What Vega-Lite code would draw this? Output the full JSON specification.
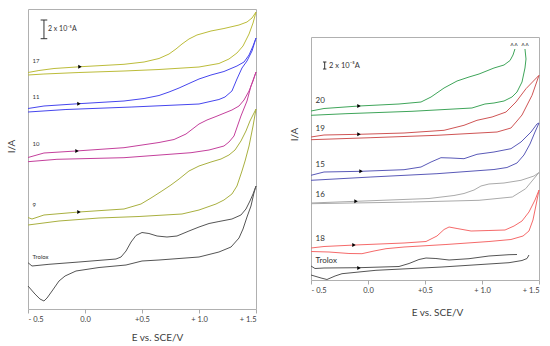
{
  "$schema": "https://vega.github.io/schema/vega-lite/v6.json",
  "padding": {"left": 5, "top": 8, "right": 0, "bottom": 0},
  "spacing": 29,
  "resolve": {"scale": {"color": "independent"}},
  "config": {
    "font": "Lato",
    "view": {"stroke": "#b0b0b0", "strokeWidth": 1},
    "axis": {"grid": false, "labelColor": "#404040", "titleColor": "#404040", "titleFontWeight": "normal", "labelFont": "Lato", "titleFont": "Lato"}
  },
  "datasets": {
    "L": [
      {"t":"17","e":-0.5,"i":236.5},{"t":"17","e":-0.404,"i":238.5},{"t":"17","e":-0.272,"i":240.5},{"t":"17","e":-0.035,"i":242.3},{"t":"17","e":0.342,"i":244.7},{"t":"17","e":0.518,"i":247},{"t":"17","e":0.649,"i":250.5},{"t":"17","e":0.737,"i":255},{"t":"17","e":0.798,"i":260},{"t":"17","e":0.851,"i":265},{"t":"17","e":0.912,"i":270},{"t":"17","e":0.982,"i":274},{"t":"17","e":1.105,"i":278},{"t":"17","e":1.219,"i":280.5},{"t":"17","e":1.351,"i":284},{"t":"17","e":1.421,"i":287},{"t":"17","e":1.465,"i":291},{"t":"17","e":1.5,"i":297},
      {"t":"17","e":1.474,"i":286},{"t":"17","e":1.439,"i":275},{"t":"17","e":1.386,"i":263},{"t":"17","e":1.333,"i":256},{"t":"17","e":1.263,"i":250},{"t":"17","e":1.175,"i":245.5},{"t":"17","e":1.0,"i":242},{"t":"17","e":0.649,"i":239.5},{"t":"17","e":0.342,"i":238},{"t":"17","e":-0.053,"i":236.5},{"t":"17","e":-0.36,"i":235},{"t":"17","e":-0.5,"i":234},

      {"t":"11","e":-0.5,"i":200.5},{"t":"11","e":-0.36,"i":203},{"t":"11","e":-0.053,"i":205.3},{"t":"11","e":0.342,"i":208},{"t":"11","e":0.518,"i":210.5},{"t":"11","e":0.649,"i":213.5},{"t":"11","e":0.737,"i":217},{"t":"11","e":0.825,"i":221},{"t":"11","e":0.912,"i":225.5},{"t":"11","e":1.0,"i":230},{"t":"11","e":1.105,"i":234},{"t":"11","e":1.219,"i":237.5},{"t":"11","e":1.333,"i":243},{"t":"11","e":1.395,"i":247},{"t":"11","e":1.439,"i":254},{"t":"11","e":1.474,"i":263},{"t":"11","e":1.5,"i":271},
      {"t":"11","e":1.465,"i":258},{"t":"11","e":1.421,"i":248},{"t":"11","e":1.377,"i":241},{"t":"11","e":1.333,"i":230},{"t":"11","e":1.289,"i":218},{"t":"11","e":1.228,"i":212},{"t":"11","e":1.175,"i":209.5},{"t":"11","e":1.0,"i":205},{"t":"11","e":0.412,"i":202},{"t":"11","e":-0.167,"i":199.5},{"t":"11","e":-0.5,"i":197},

      {"t":"10","e":-0.5,"i":151.5},{"t":"10","e":-0.36,"i":156},{"t":"10","e":-0.079,"i":158},{"t":"10","e":0.342,"i":161.3},{"t":"10","e":0.649,"i":166.5},{"t":"10","e":0.781,"i":169.5},{"t":"10","e":0.886,"i":175},{"t":"10","e":1.0,"i":185},{"t":"10","e":1.07,"i":189},{"t":"10","e":1.149,"i":192.5},{"t":"10","e":1.289,"i":199},{"t":"10","e":1.351,"i":203},{"t":"10","e":1.395,"i":209},{"t":"10","e":1.439,"i":218},{"t":"10","e":1.474,"i":228},{"t":"10","e":1.5,"i":237},
      {"t":"10","e":1.456,"i":223},{"t":"10","e":1.421,"i":208},{"t":"10","e":1.368,"i":193},{"t":"10","e":1.307,"i":173},{"t":"10","e":1.263,"i":167},{"t":"10","e":1.219,"i":163},{"t":"10","e":1.088,"i":159},{"t":"10","e":0.93,"i":156.3},{"t":"10","e":0.342,"i":151.3},{"t":"10","e":-0.246,"i":149.7},{"t":"10","e":-0.5,"i":147.3},

      {"t":"9","e":-0.5,"i":91.5},{"t":"9","e":-0.465,"i":90},{"t":"9","e":-0.36,"i":94},{"t":"9","e":-0.053,"i":97},{"t":"9","e":0.342,"i":100},{"t":"9","e":0.491,"i":105},{"t":"9","e":0.579,"i":111},{"t":"9","e":0.675,"i":118},{"t":"9","e":0.754,"i":124},{"t":"9","e":0.825,"i":130},{"t":"9","e":0.912,"i":138},{"t":"9","e":1.0,"i":143},{"t":"9","e":1.105,"i":147},{"t":"9","e":1.193,"i":150},{"t":"9","e":1.263,"i":154},{"t":"9","e":1.316,"i":159},{"t":"9","e":1.368,"i":168},{"t":"9","e":1.412,"i":178},{"t":"9","e":1.447,"i":188},{"t":"9","e":1.5,"i":200},
      {"t":"9","e":1.474,"i":183},{"t":"9","e":1.439,"i":163},{"t":"9","e":1.404,"i":148},{"t":"9","e":1.377,"i":138},{"t":"9","e":1.333,"i":123},{"t":"9","e":1.289,"i":115},{"t":"9","e":1.219,"i":109},{"t":"9","e":1.149,"i":105},{"t":"9","e":1.0,"i":99},{"t":"9","e":0.851,"i":95},{"t":"9","e":0.474,"i":92.5},{"t":"9","e":0.123,"i":91},{"t":"9","e":-0.228,"i":88},{"t":"9","e":-0.5,"i":84},

      {"t":"TrL","e":-0.5,"i":46.3},{"t":"TrL","e":-0.465,"i":43},{"t":"TrL","e":-0.316,"i":44.7},{"t":"TrL","e":-0.053,"i":47},{"t":"TrL","e":0.272,"i":50},{"t":"TrL","e":0.316,"i":52},{"t":"TrL","e":0.36,"i":58},{"t":"TrL","e":0.404,"i":67},{"t":"TrL","e":0.447,"i":73.5},{"t":"TrL","e":0.5,"i":76.5},{"t":"TrL","e":0.561,"i":75.5},{"t":"TrL","e":0.632,"i":73},{"t":"TrL","e":0.719,"i":72},{"t":"TrL","e":0.807,"i":73},{"t":"TrL","e":0.912,"i":78},{"t":"TrL","e":1.0,"i":82},{"t":"TrL","e":1.088,"i":85.5},{"t":"TrL","e":1.175,"i":87.5},{"t":"TrL","e":1.289,"i":90},{"t":"TrL","e":1.368,"i":94},{"t":"TrL","e":1.412,"i":100},{"t":"TrL","e":1.447,"i":108},{"t":"TrL","e":1.474,"i":115},{"t":"TrL","e":1.5,"i":123},
      {"t":"TrL","e":1.482,"i":116},{"t":"TrL","e":1.456,"i":103},{"t":"TrL","e":1.421,"i":92},{"t":"TrL","e":1.386,"i":80},{"t":"TrL","e":1.351,"i":71},{"t":"TrL","e":1.281,"i":62},{"t":"TrL","e":1.175,"i":57},{"t":"TrL","e":1.0,"i":52},{"t":"TrL","e":0.649,"i":49},{"t":"TrL","e":0.5,"i":48},{"t":"TrL","e":0.36,"i":44},{"t":"TrL","e":0.123,"i":41.5},{"t":"TrL","e":-0.079,"i":38},{"t":"TrL","e":-0.175,"i":33},{"t":"TrL","e":-0.228,"i":28},{"t":"TrL","e":-0.289,"i":18},{"t":"TrL","e":-0.333,"i":11},{"t":"TrL","e":-0.36,"i":8},{"t":"TrL","e":-0.395,"i":10},{"t":"TrL","e":-0.439,"i":15},{"t":"TrL","e":-0.5,"i":23}
    ],
    "R": [
      {"t":"20","e":-0.5,"i":169},{"t":"20","e":-0.386,"i":171.5},{"t":"20","e":-0.079,"i":174},{"t":"20","e":0.272,"i":176},{"t":"20","e":0.465,"i":178},{"t":"20","e":0.553,"i":183},{"t":"20","e":0.667,"i":192},{"t":"20","e":0.781,"i":199},{"t":"20","e":0.886,"i":203},{"t":"20","e":0.974,"i":206},{"t":"20","e":1.105,"i":212},{"t":"20","e":1.193,"i":215},{"t":"20","e":1.246,"i":219.5},{"t":"20","e":1.272,"i":225},{"t":"20","e":1.289,"i":231},
      {"t":"20r","e":1.377,"i":231},{"t":"20r","e":1.386,"i":221},{"t":"20r","e":1.377,"i":212},{"t":"20r","e":1.351,"i":198},{"t":"20r","e":1.307,"i":188},{"t":"20r","e":1.263,"i":183},{"t":"20r","e":1.193,"i":179},{"t":"20r","e":1.105,"i":177},{"t":"20r","e":1.026,"i":176},{"t":"20r","e":0.912,"i":172},{"t":"20r","e":0.386,"i":168.7},{"t":"20r","e":-0.193,"i":166.3},{"t":"20r","e":-0.5,"i":164.7},

      {"t":"19","e":-0.5,"i":143},{"t":"19","e":-0.386,"i":145},{"t":"19","e":-0.079,"i":145.7},{"t":"19","e":0.316,"i":147},{"t":"19","e":0.667,"i":149.7},{"t":"19","e":0.842,"i":154.7},{"t":"19","e":0.956,"i":159.7},{"t":"19","e":1.088,"i":163},{"t":"19","e":1.211,"i":168},{"t":"19","e":1.298,"i":178},{"t":"19","e":1.386,"i":191.3},{"t":"19","e":1.5,"i":204.7},
      {"t":"19","e":1.439,"i":184.7},{"t":"19","e":1.351,"i":165},{"t":"19","e":1.307,"i":159},{"t":"19","e":1.254,"i":152},{"t":"19","e":1.132,"i":148},{"t":"19","e":0.605,"i":144.7},{"t":"19","e":0.026,"i":142.3},{"t":"19","e":-0.5,"i":140.3},

      {"t":"15","e":-0.5,"i":104.7},{"t":"15","e":-0.386,"i":108},{"t":"15","e":-0.061,"i":108.7},{"t":"15","e":0.316,"i":110.3},{"t":"15","e":0.465,"i":113},{"t":"15","e":0.553,"i":118},{"t":"15","e":0.64,"i":122.3},{"t":"15","e":0.728,"i":122},{"t":"15","e":0.842,"i":121.3},{"t":"15","e":0.956,"i":125.7},{"t":"15","e":1.105,"i":128},{"t":"15","e":1.254,"i":131.3},{"t":"15","e":1.342,"i":138},{"t":"15","e":1.43,"i":148},{"t":"15","e":1.482,"i":156},{"t":"15","e":1.5,"i":157},
      {"t":"15","e":1.465,"i":148},{"t":"15","e":1.421,"i":136},{"t":"15","e":1.368,"i":125},{"t":"15","e":1.307,"i":117},{"t":"15","e":1.219,"i":112.5},{"t":"15","e":1.105,"i":110.5},{"t":"15","e":0.605,"i":106.3},{"t":"15","e":0.026,"i":103},{"t":"15","e":-0.5,"i":99.7},

      {"t":"16","e":-0.5,"i":77},{"t":"16","e":-0.105,"i":78.7},{"t":"16","e":0.535,"i":81.5},{"t":"16","e":0.754,"i":84.5},{"t":"16","e":0.842,"i":86.5},{"t":"16","e":0.93,"i":90},{"t":"16","e":0.991,"i":94},{"t":"16","e":1.061,"i":96},{"t":"16","e":1.193,"i":97},{"t":"16","e":1.342,"i":99.7},{"t":"16","e":1.456,"i":104},{"t":"16","e":1.5,"i":107.5},
      {"t":"16","e":1.383,"i":91.3},{"t":"16","e":1.266,"i":83},{"t":"16","e":0.974,"i":79.7},{"t":"16","e":0.389,"i":78},{"t":"16","e":-0.5,"i":76.3},

      {"t":"18","e":-0.5,"i":32},{"t":"18","e":-0.386,"i":33.5},{"t":"18","e":-0.114,"i":35},{"t":"18","e":0.316,"i":37},{"t":"18","e":0.509,"i":38.5},{"t":"18","e":0.605,"i":44},{"t":"18","e":0.667,"i":50.5},{"t":"18","e":0.711,"i":53},{"t":"18","e":0.781,"i":51.5},{"t":"18","e":0.904,"i":49},{"t":"18","e":1.061,"i":49.5},{"t":"18","e":1.202,"i":50},{"t":"18","e":1.281,"i":54},{"t":"18","e":1.351,"i":59},{"t":"18","e":1.412,"i":68},{"t":"18","e":1.465,"i":80},{"t":"18","e":1.5,"i":90},
      {"t":"18","e":1.474,"i":75},{"t":"18","e":1.447,"i":60},{"t":"18","e":1.412,"i":49},{"t":"18","e":1.36,"i":44},{"t":"18","e":1.254,"i":40.5},{"t":"18","e":1.061,"i":38.5},{"t":"18","e":0.684,"i":35.5},{"t":"18","e":0.316,"i":33},{"t":"18","e":0.158,"i":31.3},{"t":"18","e":0.053,"i":29},{"t":"18","e":-0.053,"i":26.3},{"t":"18","e":-0.167,"i":26.5},{"t":"18","e":-0.342,"i":28},{"t":"18","e":-0.5,"i":28.5},

      {"t":"TrR","e":-0.5,"i":14},{"t":"TrR","e":-0.465,"i":11.5},{"t":"TrR","e":-0.386,"i":12},{"t":"TrR","e":-0.079,"i":12.3},{"t":"TrR","e":0.272,"i":13.5},{"t":"TrR","e":0.36,"i":16.5},{"t":"TrR","e":0.447,"i":20.5},{"t":"TrR","e":0.509,"i":22},{"t":"TrR","e":0.596,"i":21.5},{"t":"TrR","e":0.711,"i":20},{"t":"TrR","e":0.886,"i":21.3},{"t":"TrR","e":1.061,"i":24},{"t":"TrR","e":1.237,"i":25.3},{"t":"TrR","e":1.307,"i":25.5},
      {"t":"TrRr","e":1.412,"i":25},{"t":"TrRr","e":1.395,"i":21.5},{"t":"TrRr","e":1.351,"i":19.5},{"t":"TrRr","e":1.237,"i":17.3},{"t":"TrRr","e":0.649,"i":13},{"t":"TrRr","e":0.07,"i":9.7},{"t":"TrRr","e":-0.228,"i":6.3},{"t":"TrRr","e":-0.289,"i":4},{"t":"TrRr","e":-0.36,"i":0.5},{"t":"TrRr","e":-0.412,"i":2},{"t":"TrRr","e":-0.5,"i":5}
    ]
  },
  "hconcat": [
    {
      "width": 228,
      "height": 300,
      "layer": [
        {
          "data": {"name": "L"},
          "mark": {"type": "line", "strokeWidth": 1},
          "encoding": {
            "x": {"field": "e", "type": "quantitative", "title": "E vs. SCE/V",
              "scale": {"domain": [-0.5, 1.5], "nice": false, "zero": false},
              "axis": {"values": [-0.5, 0, 0.5, 1, 1.5], "labelExpr": "datum.value < -0.25 ? '- 0.5' : datum.value < 0.25 ? '0.0' : datum.value < 0.75 ? '+0.5' : datum.value < 1.25 ? '+ 1.0' : '+ 1.5'", "domain": false, "tickSize": 4, "tickColor": "#aaaaaa", "labelFontSize": 7.5, "labelPadding": 2, "titleFontSize": 10, "titleX": 129, "titleY": 28, "titleBaseline": "middle"}},
            "y": {"field": "i", "type": "quantitative", "title": "I/A",
              "scale": {"domain": [0, 300], "nice": false, "zero": false},
              "axis": {"labels": false, "ticks": false, "domain": false, "titleFontSize": 10, "titlePadding": 12, "titleY": 137}},
            "color": {"field": "t", "type": "nominal", "legend": null,
              "scale": {"domain": ["17", "11", "10", "9", "TrL"], "range": ["#bcbc3a", "#4646ee", "#c4409c", "#a9b040", "#555555"]}},
            "order": {"value": null}
          }
        },
        {
          "data": {"values": [{"e": -0.044, "i": 242.3}, {"e": -0.053, "i": 205.3}, {"e": -0.07, "i": 158}, {"e": -0.053, "i": 97}]},
          "mark": {"type": "point", "shape": "triangle-right", "filled": true, "color": "#000000", "size": 16, "opacity": 1},
          "encoding": {"x": {"field": "e", "type": "quantitative", "title": "E vs. SCE/V"}, "y": {"field": "i", "type": "quantitative", "title": "I/A"}}
        },
        {
          "data": {"values": [{"e": -0.46, "i": 248, "label": "17"}, {"e": -0.46, "i": 212.3, "label": "11"}, {"e": -0.46, "i": 164.7, "label": "10"}, {"e": -0.46, "i": 104, "label": "9"}, {"e": -0.46, "i": 52, "label": "Trolox"}]},
          "mark": {"type": "text", "align": "left", "baseline": "middle", "fontSize": 6, "color": "#333333"},
          "encoding": {"x": {"field": "e", "type": "quantitative", "title": "E vs. SCE/V"}, "y": {"field": "i", "type": "quantitative", "title": "I/A"}, "text": {"field": "label"}}
        },
        {
          "data": {"values": [{"e": -0.36, "i": 289, "i2": 270.3}]},
          "mark": {"type": "rule", "color": "#333333", "strokeWidth": 1},
          "encoding": {"x": {"field": "e", "type": "quantitative", "title": "E vs. SCE/V"}, "y": {"field": "i", "type": "quantitative", "title": "I/A"}, "y2": {"field": "i2"}}
        },
        {
          "data": {"values": [{"e": -0.389, "e2": -0.331, "i": 289}, {"e": -0.389, "e2": -0.331, "i": 270.3}]},
          "mark": {"type": "rule", "color": "#333333", "strokeWidth": 1},
          "encoding": {"x": {"field": "e", "type": "quantitative", "title": "E vs. SCE/V"}, "x2": {"field": "e2"}, "y": {"field": "i", "type": "quantitative", "title": "I/A"}}
        },
        {
          "data": {"values": [{"e": -0.325, "i": 279.7, "label": "2 x 10⁻⁵A"}]},
          "mark": {"type": "text", "align": "left", "baseline": "middle", "fontSize": 7, "color": "#333333"},
          "encoding": {"x": {"field": "e", "type": "quantitative", "title": "E vs. SCE/V"}, "y": {"field": "i", "type": "quantitative", "title": "I/A"}, "text": {"field": "label"}}
        }
      ]
    },
    {
      "spacing": 0,
      "vconcat": [
        {
          "width": 1,
          "height": 27,
          "view": {"stroke": null},
          "data": {"values": []},
          "mark": "point",
          "encoding": {}
        },
        {
          "width": 228,
          "height": 243,
          "layer": [
            {
              "data": {"name": "R"},
              "mark": {"type": "line", "strokeWidth": 1},
              "encoding": {
                "x": {"field": "e", "type": "quantitative", "title": "E vs. SCE/V",
                  "scale": {"domain": [-0.5, 1.5], "nice": false, "zero": false},
                  "axis": {"values": [-0.5, 0, 0.5, 1, 1.5], "labelExpr": "datum.value < -0.25 ? '- 0.5' : datum.value < 0.25 ? '0.0' : datum.value < 0.75 ? '+0.5' : datum.value < 1.25 ? '+ 1.0' : '+ 1.5'", "domain": false, "tickSize": 4, "tickColor": "#aaaaaa", "labelFontSize": 7.5, "labelPadding": 2, "titleFontSize": 10, "titleX": 126, "titleY": 32, "titleBaseline": "middle"}},
                "y": {"field": "i", "type": "quantitative", "title": "I/A",
                  "scale": {"domain": [0, 243], "nice": false, "zero": false},
                  "axis": {"labels": false, "ticks": false, "domain": false, "titleFontSize": 10, "titlePadding": 12, "titleY": 97}},
                "color": {"field": "t", "type": "nominal", "legend": null,
                  "scale": {"domain": ["20", "20r", "19", "15", "16", "18", "TrR", "TrRr"], "range": ["#3fa55a", "#3fa55a", "#cf5555", "#5a5ab8", "#aaaaaa", "#f56a6a", "#555555", "#555555"]}},
                "order": {"value": null}
              }
            },
            {
              "data": {"values": [{"e": -0.079, "i": 174}, {"e": -0.079, "i": 145.7}, {"e": -0.061, "i": 108.7}, {"e": -0.105, "i": 78.7}, {"e": -0.123, "i": 35}, {"e": -0.079, "i": 12}]},
              "mark": {"type": "point", "shape": "triangle-right", "filled": true, "color": "#000000", "size": 16, "opacity": 1},
              "encoding": {"x": {"field": "e", "type": "quantitative", "title": "E vs. SCE/V"}, "y": {"field": "i", "type": "quantitative", "title": "I/A"}}
            },
            {
              "data": {"values": [{"e": -0.46, "i": 178.7, "label": "20"}, {"e": -0.46, "i": 150.7, "label": "19"}, {"e": -0.46, "i": 114.7, "label": "15"}, {"e": -0.46, "i": 84.7, "label": "16"}, {"e": -0.46, "i": 41.3, "label": "18"}, {"e": -0.46, "i": 19.3, "label": "Trolox"}]},
              "mark": {"type": "text", "align": "left", "baseline": "middle", "fontSize": 8, "color": "#333333"},
              "encoding": {"x": {"field": "e", "type": "quantitative", "title": "E vs. SCE/V"}, "y": {"field": "i", "type": "quantitative", "title": "I/A"}, "text": {"field": "label"}}
            },
            {
              "data": {"values": [{"e": -0.38, "i": 218, "i2": 211}]},
              "mark": {"type": "rule", "color": "#333333", "strokeWidth": 1},
              "encoding": {"x": {"field": "e", "type": "quantitative", "title": "E vs. SCE/V"}, "y": {"field": "i", "type": "quantitative", "title": "I/A"}, "y2": {"field": "i2"}}
            },
            {
              "data": {"values": [{"e": -0.395, "e2": -0.365, "i": 218}, {"e": -0.395, "e2": -0.365, "i": 211}]},
              "mark": {"type": "rule", "color": "#333333", "strokeWidth": 1},
              "encoding": {"x": {"field": "e", "type": "quantitative", "title": "E vs. SCE/V"}, "x2": {"field": "e2"}, "y": {"field": "i", "type": "quantitative", "title": "I/A"}}
            },
            {
              "data": {"values": [{"e": -0.342, "i": 214.5, "label": "2 x 10⁻⁵A"}]},
              "mark": {"type": "text", "align": "left", "baseline": "middle", "fontSize": 7.5, "color": "#333333"},
              "encoding": {"x": {"field": "e", "type": "quantitative", "title": "E vs. SCE/V"}, "y": {"field": "i", "type": "quantitative", "title": "I/A"}, "text": {"field": "label"}}
            },
            {
              "data": {"values": [{"e": 1.281, "i": 233.5, "label": "^^"}, {"e": 1.377, "i": 233.5, "label": "^^"}]},
              "mark": {"type": "text", "align": "center", "baseline": "middle", "fontSize": 7, "color": "#333333"},
              "encoding": {"x": {"field": "e", "type": "quantitative", "title": "E vs. SCE/V"}, "y": {"field": "i", "type": "quantitative", "title": "I/A"}, "text": {"field": "label"}}
            }
          ]
        }
      ]
    }
  ]
}
